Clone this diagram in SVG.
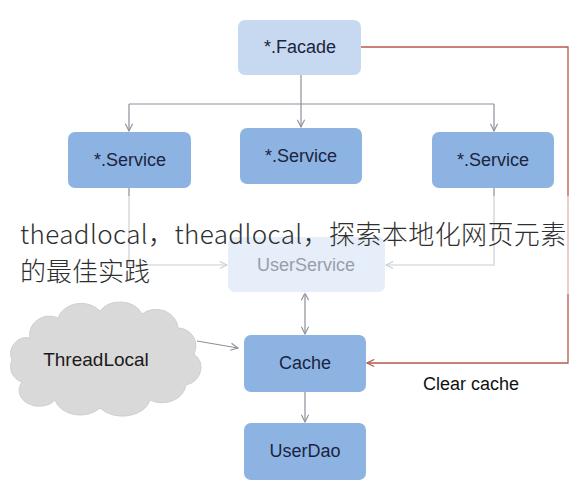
<svg xmlns="http://www.w3.org/2000/svg" width="584" height="490" viewBox="0 0 584 490">
<defs>
<style>
.box{stroke:none}
.light{fill:#c6d9f1}
.mid{fill:#8db3e2}
.lbl{font-family:"Liberation Sans",Arial,sans-serif;font-size:18px;fill:#1b2440;text-anchor:middle}
.conn{fill:none;stroke:#8a9099;stroke-width:1.2}
.red{fill:none;stroke:#b85a4e;stroke-width:1.3}
.wm{font-family:"Noto Sans CJK SC","Noto Sans",sans-serif;font-size:26px;font-weight:300;fill:#2e2e2e}
</style>
<marker id="arr" viewBox="0 0 10 10" refX="9" refY="5" markerWidth="9" markerHeight="9" orient="auto-start-reverse" markerUnits="userSpaceOnUse">
<path d="M1,1 L9,5 L1,9" fill="none" stroke="#8a9099" stroke-width="1.2"/>
</marker>
<marker id="arrRed" viewBox="0 0 10 10" refX="9" refY="5" markerWidth="9" markerHeight="9" orient="auto" markerUnits="userSpaceOnUse">
<path d="M1,1 L9,5 L1,9" fill="none" stroke="#b85a4e" stroke-width="1.3"/>
</marker>
</defs>
<rect width="584" height="490" fill="#ffffff"/>

<g id="connectors">
<path class="conn" d="M301,75 V127" marker-end="url(#arr)"/>
<path class="conn" d="M129,104 H494"/>
<path class="conn" d="M129,104 V131" marker-end="url(#arr)"/>
<path class="conn" d="M494,104 V131" marker-end="url(#arr)"/>
<path class="conn" d="M129,188 V265 H227" marker-end="url(#arr)"/>
<path class="conn" d="M494,188 V265 H386" marker-end="url(#arr)"/>
<path class="conn" d="M305,293 V334" marker-start="url(#arr)" marker-end="url(#arr)"/>
<path class="conn" d="M305,392 V422" marker-end="url(#arr)"/>
<path class="conn" d="M197,341 L238,348" marker-end="url(#arr)"/>
<path class="red" d="M361,47 H568 V363 H367" marker-end="url(#arrRed)"/>
</g>

<g id="facade">
<rect class="box light" x="238" y="20" width="123" height="55" rx="7"/>
<text class="lbl" x="300" y="53">*.Facade</text>
</g>
<g id="service1">
<rect class="box mid" x="68" y="132" width="123" height="56" rx="7"/>
<text class="lbl" x="130" y="166">*.Service</text>
</g>
<g id="service2">
<rect class="box mid" x="240" y="128" width="122" height="56" rx="7"/>
<text class="lbl" x="301" y="162">*.Service</text>
</g>
<g id="service3">
<rect class="box mid" x="432" y="132" width="122" height="56" rx="7"/>
<text class="lbl" x="493" y="166">*.Service</text>
</g>
<g id="userservice">
<rect class="box light" x="228" y="237" width="157" height="55" rx="7"/>
<text class="lbl" x="306" y="271">UserService</text>
</g>
<g id="cache">
<rect class="box mid" x="244" y="335" width="122" height="57" rx="7"/>
<text class="lbl" x="305" y="369">Cache</text>
</g>
<g id="userdao">
<rect class="box mid" x="244" y="423" width="122" height="57" rx="7"/>
<text class="lbl" x="305" y="457">UserDao</text>
</g>
<g id="threadlocal">
<path d="M30,338 A20,18 0 0 1 58,318 A24,20 0 0 1 100,311 A24,20 0 0 1 142,314 A22,20 0 0 1 178,328 A18,18 0 0 1 194,354 A20,18 0 0 1 186,385 A24,20 0 0 1 150,400 A28,20 0 0 1 100,408 A26,20 0 0 1 55,400 A20,16 0 0 1 22,382 A16,16 0 0 1 12,360 A16,16 0 0 1 30,338 Z" fill="#d9d9d9" stroke="#cfcfcf" stroke-width="1"/>
<text class="lbl" x="96" y="366" style="font-size:19px;fill:#1a1a1a">ThreadLocal</text>
</g>
<g id="clear-label">
<text x="423" y="390" style="font-family:'Liberation Sans',Arial,sans-serif;font-size:18px;fill:#111">Clear cache</text>
</g>

<rect x="0" y="196" width="584" height="98" fill="#ffffff" opacity="0.55"/>
<g id="caption">
<text class="wm" x="20" y="244" style="letter-spacing:0.4px">theadlocal，theadlocal，探索本地化网页元素</text>
<text class="wm" x="20" y="281">的最佳实践</text>
</g>
</svg>
